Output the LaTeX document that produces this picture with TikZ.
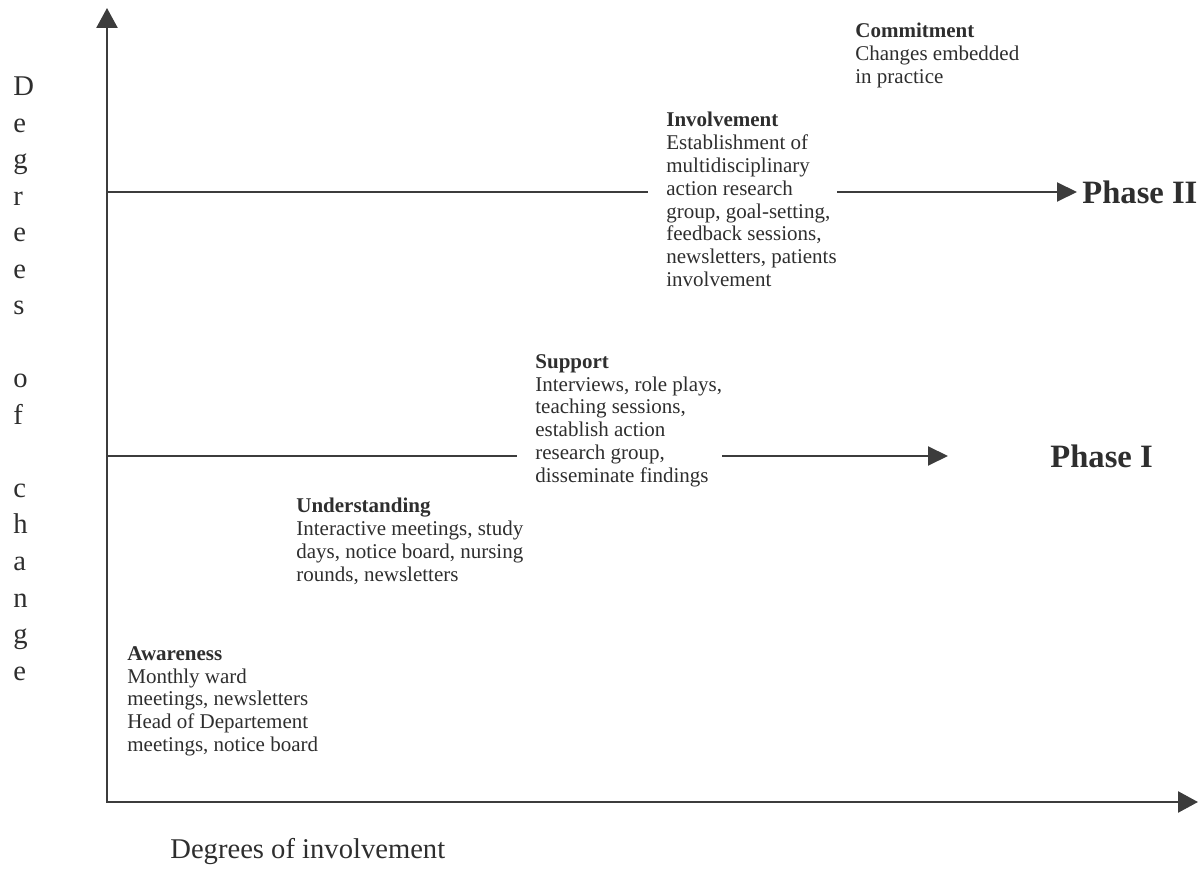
\documentclass[tikz,border=0pt]{standalone}
\usepackage{fontspec}
\setmainfont{Liberation Serif}
\usetikzlibrary{positioning, arrows.meta, calc}
\definecolor{inkgray}{HTML}{2E2E2E}
\definecolor{linegray}{HTML}{3C3C3C}
\tikzset{
	stagetext/.style={anchor=north west, align=left, inner sep=0pt, text=inkgray,
		font=\fontsize{10.5}{11.4}\selectfont},
	phaselabel/.style={anchor=west, inner sep=0pt, text=inkgray,
		font=\fontsize{16.3}{19}\selectfont\bfseries},
	axislabel/.style={inner sep=0pt, text=inkgray, font=\fontsize{14.3}{16}\selectfont},
	axisarr/.style={{Triangle[length=10pt, width=10.5pt]}-{Triangle[length=10pt, width=10.5pt]},
		line width=1.3pt, draw=linegray},
	phasearr/.style={-{Triangle[length=10pt, width=9.5pt]}, line width=1pt, draw=linegray},
	phaseline/.style={line width=1pt, draw=linegray}
}

\begin{document}
\begin{tikzpicture}[x=0.5pt, y=-0.5pt]
		\useasboundingbox (0,0) rectangle (1201,877);
		\coordinate (origin) at (107,802);
		\coordinate (ytip) at (107,8);
		\coordinate (xtip) at (1198,802);
		\draw[axisarr] (ytip) -- (origin) -- (xtip);
		\foreach \ch/\k in {D/0,e/1,g/2,r/3,e/4,e/5,s/6,o/8,f/9,c/11,h/12,a/13,n/14,g/15,e/16}
			\node[axislabel, anchor=base west] (v\k) at (13,{96+36.5*\k}) {\ch};
		\node[axislabel, anchor=base west] (xlabel) at (170,858) {Degrees of involvement};
		\node[stagetext] (aware) at (127,646) {\textbf{Awareness}\\Monthly ward\\meetings, newsletters\\Head of Departement\\meetings, notice board};
		\node[stagetext] (underst) at (296,498) {\textbf{Understanding}\\Interactive meetings, study\\days, notice board, nursing\\rounds, newsletters};
		\node[stagetext] (support) at (535,354) {\textbf{Support}\\Interviews, role plays,\\teaching sessions,\\establish action\\research group,\\disseminate findings};
		\node[stagetext] (involve) at (666,112) {\textbf{Involvement}\\Establishment of\\multidisciplinary\\action research\\group, goal-setting,\\feedback sessions,\\newsletters, patients\\involvement};
		\node[stagetext] (commit) at (855,23) {\textbf{Commitment}\\Changes embedded\\in practice};
		\coordinate (p1start) at (107,456);
		\coordinate (p1tip) at (948,456);
		\coordinate (p2start) at (107,192);
		\node[phaselabel] (phase1) at (1050,456) {Phase I};
		\node[phaselabel] (phase2) at (1082,192) {Phase II};
		\draw[phaseline, shorten >=9pt] (p1start) -- (p1start -| support.west);
		\draw[phasearr] (p1start -| support.east) -- (p1tip);
		\draw[phaseline, shorten >=9pt] (p2start) -- (p2start -| involve.west);
		\draw[phasearr, shorten >=2.5pt] (p2start -| involve.east) -- (phase2.west);
	\end{tikzpicture}
\end{document}
